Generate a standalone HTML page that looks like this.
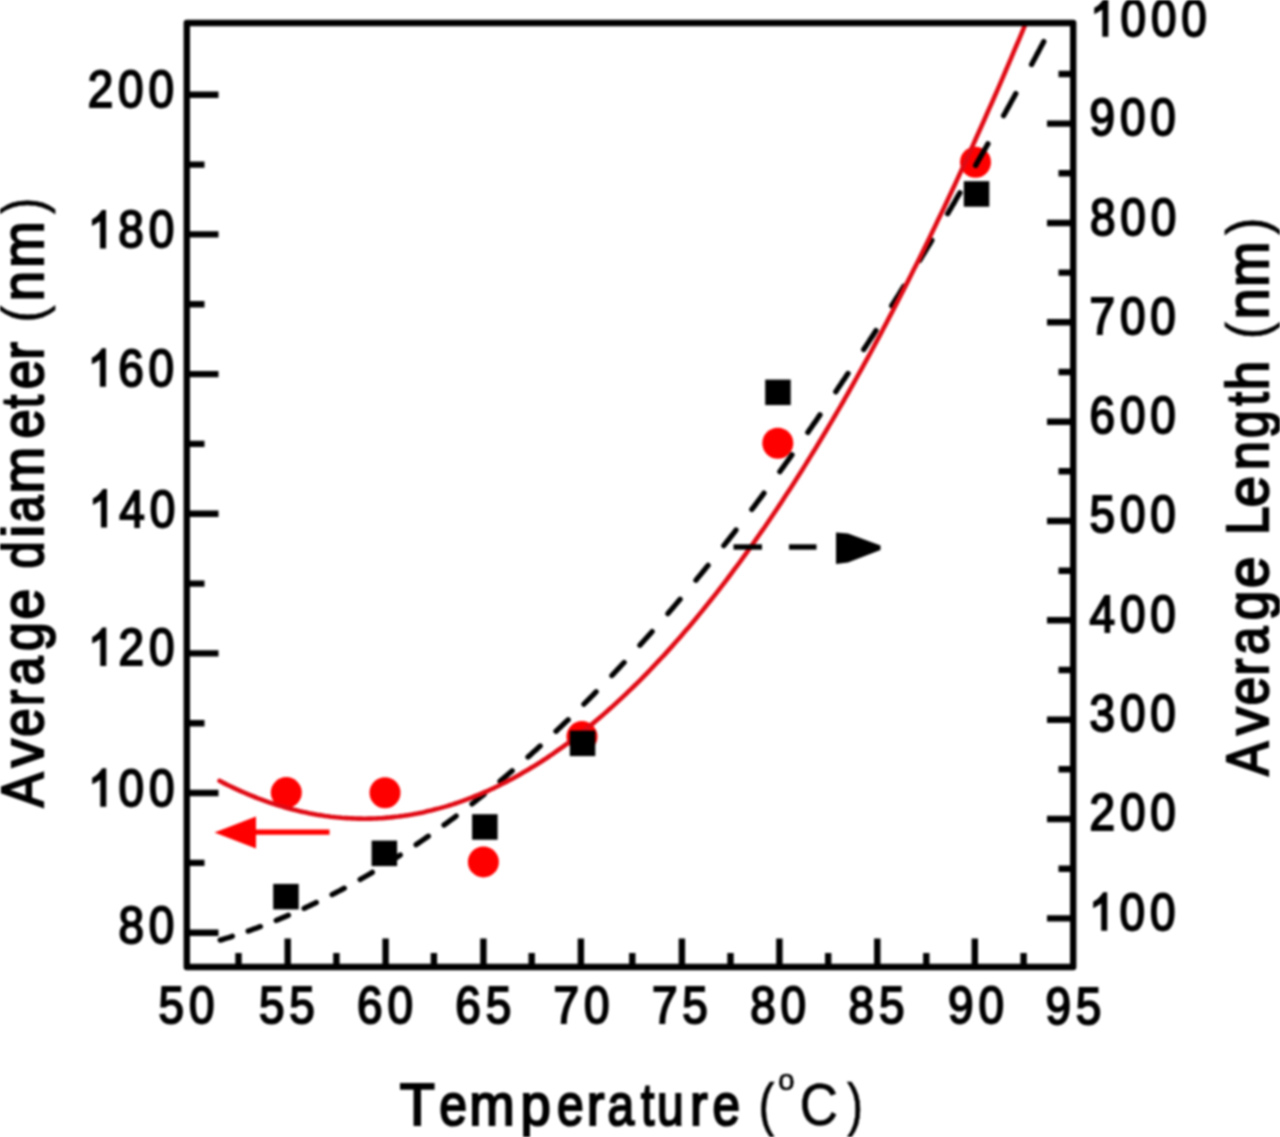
<!DOCTYPE html><html><head><meta charset="utf-8"><style>html,body{margin:0;padding:0;background:#fff;overflow:hidden}svg{display:block;filter:blur(0.8px);}text{font-family:"Liberation Sans",sans-serif;fill:#000;stroke:#000;stroke-width:2.0px;}</style></head><body>
<svg width="1280" height="1137" viewBox="0 0 1280 1137">
<rect width="1280" height="1137" fill="#fff"/>
<defs><clipPath id="c"><rect x="186.8" y="23.0" width="886.4000000000001" height="944.0"/></clipPath></defs>
<circle cx="286.3" cy="792.6" r="15.5" fill="#f00"/>
<circle cx="385" cy="792.8" r="15.5" fill="#f00"/>
<circle cx="483.4" cy="861.9" r="15.5" fill="#f00"/>
<circle cx="582" cy="736.6" r="15.5" fill="#f00"/>
<circle cx="777.8" cy="443.2" r="15.5" fill="#f00"/>
<circle cx="975.5" cy="162.3" r="15.5" fill="#f00"/>
<path d="M220.2,940.1 L221.9,939.6 L223.7,939.1 L225.4,938.5 L227.2,938.0 L228.9,937.5 L230.7,936.9 L232.4,936.3 M248.2,931.0 L249.9,930.4 L251.7,929.8 L253.4,929.1 L255.2,928.5 L256.9,927.9 L258.6,927.2 L260.4,926.6 M276.2,920.4 L277.9,919.7 L279.6,919.0 L281.4,918.2 L283.1,917.5 L284.9,916.8 L286.6,916.0 L288.4,915.3 M304.1,908.3 L305.9,907.5 L307.6,906.6 L309.4,905.8 L311.1,905.0 L312.9,904.2 L314.6,903.3 L316.3,902.5 M332.1,894.6 L333.9,893.7 L335.6,892.8 L337.3,891.9 L339.1,891.0 L340.8,890.1 L342.6,889.1 L344.3,888.2 M360.1,879.5 L361.8,878.5 L363.6,877.5 L365.3,876.5 L367.1,875.5 L368.8,874.5 L370.6,873.4 L372.3,872.4 M388.1,862.8 L389.8,861.8 L391.6,860.7 L393.3,859.6 L395.1,858.5 L396.8,857.3 L398.5,856.2 L400.3,855.1 M416.1,844.7 L417.8,843.5 L419.5,842.3 L421.3,841.1 L423.0,839.9 L424.8,838.7 L426.5,837.5 L428.3,836.3 M444.0,825.0 L445.8,823.8 L447.5,822.5 L449.3,821.2 L451.0,819.9 L452.8,818.6 L454.5,817.3 L456.2,816.0 M472.0,803.9 L473.8,802.5 L475.5,801.1 L477.2,799.7 L479.0,798.4 L480.7,797.0 L482.5,795.6 L484.2,794.2 M500.0,781.2 L501.7,779.7 L503.5,778.3 L505.2,776.8 L507.0,775.3 L508.7,773.8 L510.5,772.3 L512.2,770.8 M528.0,757.0 L529.7,755.5 L531.5,753.9 L533.2,752.3 L535.0,750.8 L536.7,749.2 L538.4,747.6 L540.2,746.0 M556.0,731.3 L557.7,729.7 L559.4,728.0 L561.2,726.4 L562.9,724.7 L564.7,723.0 L566.4,721.4 L568.2,719.7 M583.9,704.1 L585.7,702.4 L587.4,700.7 L589.2,698.9 L590.9,697.1 L592.7,695.4 L594.4,693.6 L596.1,691.8 M611.9,675.5 L613.7,673.6 L615.4,671.8 L617.1,669.9 L618.9,668.1 L620.6,666.2 L622.4,664.3 L624.1,662.5 M639.9,645.3 L641.6,643.3 L643.4,641.4 L645.1,639.4 L646.9,637.5 L648.6,635.5 L650.4,633.6 L652.1,631.6 M667.9,613.6 L669.6,611.5 L671.4,609.5 L673.1,607.5 L674.9,605.4 L676.6,603.4 L678.3,601.3 L680.1,599.3 M695.9,580.3 L697.6,578.2 L699.3,576.1 L701.1,574.0 L702.8,571.8 L704.6,569.7 L706.3,567.5 L708.1,565.4 M723.8,545.6 L725.6,543.4 L727.3,541.2 L729.1,539.0 L730.8,536.7 L732.6,534.5 L734.3,532.3 L736.0,530.0 M751.8,509.4 L753.6,507.1 L755.3,504.8 L757.0,502.5 L758.8,500.1 L760.5,497.8 L762.3,495.5 L764.0,493.1 M779.8,471.7 L781.5,469.3 L783.3,466.9 L785.0,464.5 L786.8,462.0 L788.5,459.6 L790.3,457.2 L792.0,454.8 M807.8,432.4 L809.5,429.9 L811.3,427.5 L813.0,424.9 L814.8,422.4 L816.5,419.9 L818.2,417.4 L820.0,414.9 M835.8,391.7 L837.5,389.1 L839.2,386.5 L841.0,383.9 L842.7,381.3 L844.5,378.7 L846.2,376.1 L848.0,373.5 M863.7,349.5 L865.5,346.8 L867.2,344.1 L869.0,341.4 L870.7,338.7 L872.5,336.0 L874.2,333.3 L875.9,330.6 M891.7,305.7 L893.5,302.9 L895.2,300.2 L896.9,297.4 L898.7,294.6 L900.4,291.8 L902.2,289.0 L903.9,286.2 M919.7,260.5 L921.4,257.6 L923.2,254.7 L924.9,251.8 L926.7,248.9 L928.4,246.0 L930.2,243.2 L931.9,240.2 M947.7,213.7 L949.4,210.7 L951.2,207.8 L952.9,204.8 L954.7,201.8 L956.4,198.8 L958.1,195.8 L959.9,192.8 M975.7,165.4 L977.4,162.4 L979.1,159.3 L980.9,156.2 L982.6,153.2 L984.4,150.1 L986.1,147.0 L987.9,143.9 M1003.6,115.6 L1005.4,112.5 L1007.1,109.3 L1008.9,106.2 L1010.6,103.0 L1012.4,99.8 L1014.1,96.7 L1015.8,93.5 M1031.6,64.4 L1033.4,61.1 L1035.1,57.9 L1036.8,54.6 L1038.6,51.4 L1040.3,48.1 L1042.1,44.8 L1043.8,41.5" stroke="#000" stroke-width="5.3" fill="none" stroke-linecap="round" stroke-linejoin="round" clip-path="url(#c)"/>
<path d="M219.5,780.8 L222.2,782.2 L224.9,783.6 L227.6,785.0 L230.3,786.3 L233.1,787.6 L235.8,788.9 L238.5,790.1 L241.2,791.3 L243.9,792.5 L246.6,793.7 L249.3,794.8 L252.0,795.9 L254.7,797.0 L257.4,798.1 L260.2,799.1 L262.9,800.1 L265.6,801.1 L268.3,802.1 L271.0,803.0 L273.7,803.9 L276.4,804.8 L279.1,805.6 L281.8,806.4 L284.6,807.2 L287.3,808.0 L290.0,808.7 L292.7,809.5 L295.4,810.1 L298.1,810.8 L300.8,811.4 L303.5,812.1 L306.2,812.6 L309.0,813.2 L311.7,813.7 L314.4,814.2 L317.1,814.7 L319.8,815.1 L322.5,815.6 L325.2,816.0 L327.9,816.3 L330.6,816.7 L333.3,817.0 L336.1,817.3 L338.8,817.5 L341.5,817.8 L344.2,818.0 L346.9,818.1 L349.6,818.3 L352.3,818.4 L355.0,818.5 L357.7,818.6 L360.5,818.6 L363.2,818.7 L365.9,818.7 L368.6,818.6 L371.3,818.6 L374.0,818.5 L376.7,818.4 L379.4,818.2 L382.1,818.1 L384.9,817.9 L387.6,817.6 L390.3,817.4 L393.0,817.1 L395.7,816.8 L398.4,816.5 L401.1,816.1 L403.8,815.8 L406.5,815.4 L409.2,814.9 L412.0,814.5 L414.7,814.0 L417.4,813.5 L420.1,812.9 L422.8,812.4 L425.5,811.8 L428.2,811.1 L430.9,810.5 L433.6,809.8 L436.4,809.1 L439.1,808.4 L441.8,807.6 L444.5,806.9 L447.2,806.1 L449.9,805.2 L452.6,804.4 L455.3,803.5 L458.0,802.6 L460.8,801.6 L463.5,800.7 L466.2,799.7 L468.9,798.6 L471.6,797.6 L474.3,796.5 L477.0,795.4 L479.7,794.3 L482.4,793.1 L485.1,792.0 L487.9,790.8 L490.6,789.5 L493.3,788.3 L496.0,787.0 L498.7,785.7 L501.4,784.3 L504.1,783.0 L506.8,781.6 L509.5,780.1 L512.3,778.7 L515.0,777.2 L517.7,775.7 L520.4,774.2 L523.1,772.6 L525.8,771.1 L528.5,769.5 L531.2,767.8 L533.9,766.2 L536.7,764.5 L539.4,762.8 L542.1,761.0 L544.8,759.3 L547.5,757.5 L550.2,755.6 L552.9,753.8 L555.6,751.9 L558.3,750.0 L561.0,748.1 L563.8,746.1 L566.5,744.2 L569.2,742.1 L571.9,740.1 L574.6,738.0 L577.3,736.0 L580.0,733.8 L582.7,731.7 L585.4,729.5 L588.2,727.3 L590.9,725.1 L593.6,722.9 L596.3,720.6 L599.0,718.3 L601.7,716.0 L604.4,713.6 L607.1,711.2 L609.8,708.8 L612.6,706.4 L615.3,703.9 L618.0,701.4 L620.7,698.9 L623.4,696.4 L626.1,693.8 L628.8,691.2 L631.5,688.6 L634.2,686.0 L636.9,683.3 L639.7,680.6 L642.4,677.9 L645.1,675.1 L647.8,672.3 L650.5,669.5 L653.2,666.7 L655.9,663.8 L658.6,660.9 L661.3,658.0 L664.1,655.1 L666.8,652.1 L669.5,649.1 L672.2,646.1 L674.9,643.0 L677.6,640.0 L680.3,636.9 L683.0,633.7 L685.7,630.6 L688.5,627.4 L691.2,624.2 L693.9,621.0 L696.6,617.7 L699.3,614.4 L702.0,611.1 L704.7,607.8 L707.4,604.4 L710.1,601.0 L712.8,597.6 L715.6,594.1 L718.3,590.6 L721.0,587.1 L723.7,583.6 L726.4,580.1 L729.1,576.5 L731.8,572.9 L734.5,569.2 L737.2,565.6 L740.0,561.9 L742.7,558.2 L745.4,554.4 L748.1,550.7 L750.8,546.9 L753.5,543.0 L756.2,539.2 L758.9,535.3 L761.6,531.4 L764.4,527.5 L767.1,523.5 L769.8,519.5 L772.5,515.5 L775.2,511.5 L777.9,507.4 L780.6,503.4 L783.3,499.2 L786.0,495.1 L788.7,490.9 L791.5,486.7 L794.2,482.5 L796.9,478.3 L799.6,474.0 L802.3,469.7 L805.0,465.4 L807.7,461.0 L810.4,456.6 L813.1,452.2 L815.9,447.8 L818.6,443.3 L821.3,438.8 L824.0,434.3 L826.7,429.8 L829.4,425.2 L832.1,420.6 L834.8,416.0 L837.5,411.3 L840.3,406.7 L843.0,402.0 L845.7,397.2 L848.4,392.5 L851.1,387.7 L853.8,382.9 L856.5,378.0 L859.2,373.2 L861.9,368.3 L864.6,363.4 L867.4,358.4 L870.1,353.5 L872.8,348.5 L875.5,343.4 L878.2,338.4 L880.9,333.3 L883.6,328.2 L886.3,323.1 L889.0,317.9 L891.8,312.7 L894.5,307.5 L897.2,302.3 L899.9,297.0 L902.6,291.7 L905.3,286.4 L908.0,281.1 L910.7,275.7 L913.4,270.3 L916.2,264.9 L918.9,259.5 L921.6,254.0 L924.3,248.5 L927.0,242.9 L929.7,237.4 L932.4,231.8 L935.1,226.2 L937.8,220.6 L940.5,214.9 L943.3,209.2 L946.0,203.5 L948.7,197.7 L951.4,192.0 L954.1,186.2 L956.8,180.4 L959.5,174.5 L962.2,168.6 L964.9,162.7 L967.7,156.8 L970.4,150.8 L973.1,144.9 L975.8,138.8 L978.5,132.8 L981.2,126.7 L983.9,120.7 L986.6,114.5 L989.3,108.4 L992.1,102.2 L994.8,96.0 L997.5,89.8 L1000.2,83.6 L1002.9,77.3 L1005.6,71.0 L1008.3,64.6 L1011.0,58.3 L1013.7,51.9 L1016.4,45.5 L1019.2,39.1 L1021.9,32.6 L1024.6,26.1 L1027.3,19.6 L1030.0,13.0" stroke="#e00a14" stroke-width="4.6" fill="none" stroke-linecap="round" clip-path="url(#c)"/>
<rect x="273.2" y="883.9" width="25.5" height="25.5" fill="#000"/>
<rect x="371.6" y="840.6" width="25.5" height="25.5" fill="#000"/>
<rect x="472.1" y="814.2" width="25.5" height="25.5" fill="#000"/>
<rect x="569.8" y="730.6" width="25.5" height="25.5" fill="#000"/>
<rect x="765.2" y="379.6" width="25.5" height="25.5" fill="#000"/>
<rect x="963.8" y="181.2" width="25.5" height="25.5" fill="#000"/>
<line x1="250" y1="832.2" x2="329.5" y2="832.2" stroke="#f00" stroke-width="5.2"/>
<polygon points="214.5,832.5 256,816.5 256,848.5" fill="#f00"/>
<line x1="733.5" y1="547" x2="762" y2="547" stroke="#000" stroke-width="5.4"/>
<line x1="789" y1="547" x2="816.5" y2="547" stroke="#000" stroke-width="5.4"/>
<polygon points="836,532.5 848,533.5 880.5,545.5 880.5,550 848,562.5 836,564" fill="#000"/>
<rect x="186.8" y="23.0" width="886.4000000000001" height="944.0" fill="none" stroke="#000" stroke-width="6.4" stroke-linejoin="round"/>
<path d="M186.8,932.7 H218.5 M186.8,793.0 H218.5 M186.8,653.4 H218.5 M186.8,513.8 H218.5 M186.8,374.1 H218.5 M186.8,234.4 H218.5 M186.8,94.8 H218.5 M186.8,862.9 H204.5 M186.8,723.2 H204.5 M186.8,583.6 H204.5 M186.8,443.9 H204.5 M186.8,304.3 H204.5 M186.8,164.6 H204.5 M1073.2,918.4 H1047 M1073.2,819.0 H1047 M1073.2,719.7 H1047 M1073.2,620.3 H1047 M1073.2,521.0 H1047 M1073.2,421.7 H1047 M1073.2,322.3 H1047 M1073.2,223.0 H1047 M1073.2,123.6 H1047 M1073.2,868.7 H1058.5 M1073.2,769.3 H1058.5 M1073.2,670.0 H1058.5 M1073.2,570.7 H1058.5 M1073.2,471.3 H1058.5 M1073.2,372.0 H1058.5 M1073.2,272.6 H1058.5 M1073.2,173.3 H1058.5 M1073.2,74.0 H1058.5 M238.5,967.0 V953 M287.7,967.0 V938.5 M336.4,967.0 V953 M385.6,967.0 V938.5 M433.9,967.0 V953 M483.4,967.0 V938.5 M531.7,967.0 V953 M580.9,967.0 V938.5 M632.3,967.0 V953 M681.9,967.0 V938.5 M730.5,967.0 V953 M779.4,967.0 V938.5 M828.2,967.0 V953 M877.3,967.0 V938.5 M926.3,967.0 V953 M974.8,967.0 V938.5 M1023.6,967.0 V953" stroke="#000" stroke-width="6.4" fill="none"/>
<text transform="translate(118.40,943.15) scale(0.9,1)" font-size="51">8</text>
<text transform="translate(148.76,943.15) scale(0.9,1)" font-size="51">0</text>
<path transform="translate(88.20,805.80) scale(0.02241,-0.02490)" d="M763,0 L583,0 L583,1147 L500,1075 L412,1023 L306,966 L223,929 L223,1103 L340,1165 L459,1256 L560,1360 L647,1466 L763,1466 Z" fill="#000" stroke="#000" stroke-width="2.0" vector-effect="non-scaling-stroke"/>
<text transform="translate(118.56,805.80) scale(0.9,1)" font-size="51">0</text>
<text transform="translate(148.93,805.80) scale(0.9,1)" font-size="51">0</text>
<path transform="translate(88.20,665.10) scale(0.02241,-0.02490)" d="M763,0 L583,0 L583,1147 L500,1075 L412,1023 L306,966 L223,929 L223,1103 L340,1165 L459,1256 L560,1360 L647,1466 L763,1466 Z" fill="#000" stroke="#000" stroke-width="2.0" vector-effect="non-scaling-stroke"/>
<text transform="translate(118.56,665.10) scale(0.9,1)" font-size="51">2</text>
<text transform="translate(148.93,665.10) scale(0.9,1)" font-size="51">0</text>
<path transform="translate(88.90,526.50) scale(0.02241,-0.02490)" d="M763,0 L583,0 L583,1147 L500,1075 L412,1023 L306,966 L223,929 L223,1103 L340,1165 L459,1256 L560,1360 L647,1466 L763,1466 Z" fill="#000" stroke="#000" stroke-width="2.0" vector-effect="non-scaling-stroke"/>
<text transform="translate(119.26,526.50) scale(0.9,1)" font-size="51">4</text>
<text transform="translate(149.63,526.50) scale(0.9,1)" font-size="51">0</text>
<path transform="translate(87.85,385.85) scale(0.02241,-0.02490)" d="M763,0 L583,0 L583,1147 L500,1075 L412,1023 L306,966 L223,929 L223,1103 L340,1165 L459,1256 L560,1360 L647,1466 L763,1466 Z" fill="#000" stroke="#000" stroke-width="2.0" vector-effect="non-scaling-stroke"/>
<text transform="translate(118.21,385.85) scale(0.9,1)" font-size="51">6</text>
<text transform="translate(148.58,385.85) scale(0.9,1)" font-size="51">0</text>
<path transform="translate(87.95,247.45) scale(0.02241,-0.02490)" d="M763,0 L583,0 L583,1147 L500,1075 L412,1023 L306,966 L223,929 L223,1103 L340,1165 L459,1256 L560,1360 L647,1466 L763,1466 Z" fill="#000" stroke="#000" stroke-width="2.0" vector-effect="non-scaling-stroke"/>
<text transform="translate(118.31,247.45) scale(0.9,1)" font-size="51">8</text>
<text transform="translate(148.68,247.45) scale(0.9,1)" font-size="51">0</text>
<text transform="translate(87.70,107.15) scale(0.9,1)" font-size="51">2</text>
<text transform="translate(118.06,107.15) scale(0.9,1)" font-size="51">0</text>
<text transform="translate(148.43,107.15) scale(0.9,1)" font-size="51">0</text>
<path transform="translate(1089.15,929.71) scale(0.02241,-0.02490)" d="M763,0 L583,0 L583,1147 L500,1075 L412,1023 L306,966 L223,929 L223,1103 L340,1165 L459,1256 L560,1360 L647,1466 L763,1466 Z" fill="#000" stroke="#000" stroke-width="2.0" vector-effect="non-scaling-stroke"/>
<text transform="translate(1119.51,929.71) scale(0.9,1)" font-size="51">0</text>
<text transform="translate(1149.88,929.71) scale(0.9,1)" font-size="51">0</text>
<text transform="translate(1089.57,830.47) scale(0.9,1)" font-size="51">2</text>
<text transform="translate(1119.93,830.47) scale(0.9,1)" font-size="51">0</text>
<text transform="translate(1150.29,830.47) scale(0.9,1)" font-size="51">0</text>
<text transform="translate(1089.57,731.13) scale(0.9,1)" font-size="51">3</text>
<text transform="translate(1119.93,731.13) scale(0.9,1)" font-size="51">0</text>
<text transform="translate(1150.29,731.13) scale(0.9,1)" font-size="51">0</text>
<text transform="translate(1089.57,631.79) scale(0.9,1)" font-size="51">4</text>
<text transform="translate(1119.93,631.79) scale(0.9,1)" font-size="51">0</text>
<text transform="translate(1150.29,631.79) scale(0.9,1)" font-size="51">0</text>
<text transform="translate(1089.57,532.45) scale(0.9,1)" font-size="51">5</text>
<text transform="translate(1119.93,532.45) scale(0.9,1)" font-size="51">0</text>
<text transform="translate(1150.29,532.45) scale(0.9,1)" font-size="51">0</text>
<text transform="translate(1089.57,433.11) scale(0.9,1)" font-size="51">6</text>
<text transform="translate(1119.93,433.11) scale(0.9,1)" font-size="51">0</text>
<text transform="translate(1150.29,433.11) scale(0.9,1)" font-size="51">0</text>
<text transform="translate(1089.57,333.77) scale(0.9,1)" font-size="51">7</text>
<text transform="translate(1119.93,333.77) scale(0.9,1)" font-size="51">0</text>
<text transform="translate(1150.29,333.77) scale(0.9,1)" font-size="51">0</text>
<text transform="translate(1090.00,234.78) scale(0.9,1)" font-size="51">8</text>
<text transform="translate(1120.36,234.78) scale(0.9,1)" font-size="51">0</text>
<text transform="translate(1150.73,234.78) scale(0.9,1)" font-size="51">0</text>
<text transform="translate(1089.55,134.84) scale(0.9,1)" font-size="51">9</text>
<text transform="translate(1119.91,134.84) scale(0.9,1)" font-size="51">0</text>
<text transform="translate(1150.28,134.84) scale(0.9,1)" font-size="51">0</text>
<path transform="translate(1090.25,35.75) scale(0.02241,-0.02490)" d="M763,0 L583,0 L583,1147 L500,1075 L412,1023 L306,966 L223,929 L223,1103 L340,1165 L459,1256 L560,1360 L647,1466 L763,1466 Z" fill="#000" stroke="#000" stroke-width="2.0" vector-effect="non-scaling-stroke"/>
<text transform="translate(1120.61,35.75) scale(0.9,1)" font-size="51">0</text>
<text transform="translate(1150.98,35.75) scale(0.9,1)" font-size="51">0</text>
<text transform="translate(1181.34,35.75) scale(0.9,1)" font-size="51">0</text>
<text transform="translate(158.55,1022.90) scale(0.9,1)" font-size="51">5</text>
<text transform="translate(188.91,1022.90) scale(0.9,1)" font-size="51">0</text>
<text transform="translate(259.00,1022.90) scale(0.9,1)" font-size="51">5</text>
<text transform="translate(289.36,1022.90) scale(0.9,1)" font-size="51">5</text>
<text transform="translate(357.03,1023.17) scale(0.9,1)" font-size="51">6</text>
<text transform="translate(387.39,1023.17) scale(0.9,1)" font-size="51">0</text>
<text transform="translate(455.33,1023.17) scale(0.9,1)" font-size="51">6</text>
<text transform="translate(485.69,1023.17) scale(0.9,1)" font-size="51">5</text>
<text transform="translate(553.62,1023.17) scale(0.9,1)" font-size="51">7</text>
<text transform="translate(583.99,1023.17) scale(0.9,1)" font-size="51">0</text>
<text transform="translate(651.92,1023.17) scale(0.9,1)" font-size="51">7</text>
<text transform="translate(682.29,1023.17) scale(0.9,1)" font-size="51">5</text>
<text transform="translate(750.22,1023.17) scale(0.9,1)" font-size="51">8</text>
<text transform="translate(780.59,1023.17) scale(0.9,1)" font-size="51">0</text>
<text transform="translate(848.53,1023.17) scale(0.9,1)" font-size="51">8</text>
<text transform="translate(878.89,1023.17) scale(0.9,1)" font-size="51">5</text>
<text transform="translate(948.05,1023.40) scale(0.9,1)" font-size="51">9</text>
<text transform="translate(978.41,1023.40) scale(0.9,1)" font-size="51">0</text>
<text transform="translate(1045.50,1023.50) scale(0.9,1)" font-size="51">9</text>
<text transform="translate(1075.86,1023.50) scale(0.9,1)" font-size="51">5</text>
<text transform="translate(417.20,1125.00) scale(0.958,1)" x="-18.31" font-size="60" style="stroke-width:2.2px">T</text>
<text transform="translate(453.15,1125.00) scale(0.833,1)" x="-16.63" font-size="60" style="stroke-width:2.2px">e</text>
<text transform="translate(491.90,1125.00) scale(0.909,1)" x="-25.00" font-size="60" style="stroke-width:2.2px">m</text>
<text transform="translate(536.25,1125.00) scale(0.908,1)" x="-17.36" font-size="60" style="stroke-width:2.2px">p</text>
<text transform="translate(570.30,1125.00) scale(0.800,1)" x="-16.63" font-size="60" style="stroke-width:2.2px">e</text>
<text transform="translate(596.88,1125.00) scale(0.887,1)" x="-11.48" font-size="60" style="stroke-width:2.2px">r</text>
<text transform="translate(621.90,1125.00) scale(0.800,1)" x="-17.96" font-size="60" style="stroke-width:2.2px">a</text>
<text transform="translate(647.80,1125.00) scale(0.800,1)" x="-8.57" font-size="60" style="stroke-width:2.2px">t</text>
<text transform="translate(670.33,1125.00) scale(0.800,1)" x="-16.64" font-size="60" style="stroke-width:2.2px">u</text>
<text transform="translate(700.10,1125.00) scale(0.884,1)" x="-11.48" font-size="60" style="stroke-width:2.2px">r</text>
<text transform="translate(726.10,1125.00) scale(0.824,1)" x="-16.63" font-size="60" style="stroke-width:2.2px">e</text>
<text transform="translate(767.95,1125.00) scale(0.800,1)" x="-11.67" font-size="60" style="stroke-width:0.7px">(</text>
<text transform="translate(786.25,1090.00) scale(0.991,1)" x="-8.20" font-size="29.5" style="stroke-width:0.7px">o</text>
<text transform="translate(819.30,1125.00) scale(0.884,1)" x="-22.05" font-size="60" style="stroke-width:0.7px">C</text>
<text transform="translate(853.75,1125.00) scale(0.800,1)" x="-8.31" font-size="60" style="stroke-width:0.7px">)</text>
<text transform="translate(42.50,789.95) rotate(-90) scale(0.865,1)" x="-20.01" font-size="60" style="stroke-width:2.2px">A</text>
<text transform="translate(42.50,753.00) rotate(-90) scale(0.944,1)" x="-15.00" font-size="60" style="stroke-width:2.2px">v</text>
<text transform="translate(42.50,722.65) rotate(-90) scale(0.847,1)" x="-16.63" font-size="60" style="stroke-width:2.2px">e</text>
<text transform="translate(42.50,696.65) rotate(-90) scale(0.800,1)" x="-11.48" font-size="60" style="stroke-width:2.2px">r</text>
<text transform="translate(42.50,669.90) rotate(-90) scale(0.860,1)" x="-17.96" font-size="60" style="stroke-width:2.2px">a</text>
<text transform="translate(42.50,637.25) rotate(-90) scale(0.860,1)" x="-16.01" font-size="60" style="stroke-width:2.2px">g</text>
<text transform="translate(42.50,604.15) rotate(-90) scale(0.919,1)" x="-16.63" font-size="60" style="stroke-width:2.2px">e</text>
<text transform="translate(42.50,555.55) rotate(-90) scale(0.812,1)" x="-16.01" font-size="60" style="stroke-width:2.2px">d</text>
<text transform="translate(42.50,531.25) rotate(-90) scale(1.004,1)" x="-6.65" font-size="60" style="stroke-width:2.2px">i</text>
<text transform="translate(42.50,507.80) rotate(-90) scale(0.800,1)" x="-17.96" font-size="60" style="stroke-width:2.2px">a</text>
<text transform="translate(42.50,470.15) rotate(-90) scale(0.934,1)" x="-25.00" font-size="60" style="stroke-width:2.2px">m</text>
<text transform="translate(42.50,424.00) rotate(-90) scale(0.870,1)" x="-16.63" font-size="60" style="stroke-width:2.2px">e</text>
<text transform="translate(42.50,401.50) rotate(-90) scale(0.800,1)" x="-8.57" font-size="60" style="stroke-width:2.2px">t</text>
<text transform="translate(42.50,374.85) rotate(-90) scale(0.873,1)" x="-16.63" font-size="60" style="stroke-width:2.2px">e</text>
<text transform="translate(42.50,349.50) rotate(-90) scale(0.884,1)" x="-11.48" font-size="60" style="stroke-width:2.2px">r</text>
<text transform="translate(42.50,312.55) rotate(-90) scale(0.873,1)" x="-11.67" font-size="60" style="stroke-width:0.7px">(</text>
<text transform="translate(42.50,286.15) rotate(-90) scale(0.907,1)" x="-16.73" font-size="60" style="stroke-width:2.2px">n</text>
<text transform="translate(42.50,244.65) rotate(-90) scale(0.929,1)" x="-25.00" font-size="60" style="stroke-width:2.2px">m</text>
<text transform="translate(42.50,207.10) rotate(-90) scale(0.819,1)" x="-8.31" font-size="60" style="stroke-width:0.7px">)</text>
<text transform="translate(1268.30,758.90) rotate(-90) scale(0.848,1)" x="-20.01" font-size="60" style="stroke-width:2.2px">A</text>
<text transform="translate(1268.30,721.15) rotate(-90) scale(0.922,1)" x="-15.00" font-size="60" style="stroke-width:2.2px">v</text>
<text transform="translate(1268.30,691.25) rotate(-90) scale(0.847,1)" x="-16.63" font-size="60" style="stroke-width:2.2px">e</text>
<text transform="translate(1268.30,665.95) rotate(-90) scale(0.843,1)" x="-11.48" font-size="60" style="stroke-width:2.2px">r</text>
<text transform="translate(1268.30,639.60) rotate(-90) scale(0.842,1)" x="-17.96" font-size="60" style="stroke-width:2.2px">a</text>
<text transform="translate(1268.30,606.20) rotate(-90) scale(0.884,1)" x="-16.01" font-size="60" style="stroke-width:2.2px">g</text>
<text transform="translate(1268.30,572.40) rotate(-90) scale(0.942,1)" x="-16.63" font-size="60" style="stroke-width:2.2px">e</text>
<text transform="translate(1268.30,519.60) rotate(-90) scale(0.852,1)" x="-18.15" font-size="60" style="stroke-width:2.2px">L</text>
<text transform="translate(1268.30,491.55) rotate(-90) scale(0.939,1)" x="-16.63" font-size="60" style="stroke-width:2.2px">e</text>
<text transform="translate(1268.30,455.65) rotate(-90) scale(0.878,1)" x="-16.73" font-size="60" style="stroke-width:2.2px">n</text>
<text transform="translate(1268.30,424.65) rotate(-90) scale(0.833,1)" x="-16.01" font-size="60" style="stroke-width:2.2px">g</text>
<text transform="translate(1268.30,398.60) rotate(-90) scale(0.800,1)" x="-8.57" font-size="60" style="stroke-width:2.2px">t</text>
<text transform="translate(1268.30,375.35) rotate(-90) scale(0.883,1)" x="-16.82" font-size="60" style="stroke-width:2.2px">h</text>
<text transform="translate(1268.30,329.05) rotate(-90) scale(0.873,1)" x="-11.67" font-size="60" style="stroke-width:0.7px">(</text>
<text transform="translate(1268.30,303.65) rotate(-90) scale(0.928,1)" x="-16.73" font-size="60" style="stroke-width:2.2px">n</text>
<text transform="translate(1268.30,264.20) rotate(-90) scale(0.900,1)" x="-25.00" font-size="60" style="stroke-width:2.2px">m</text>
<text transform="translate(1268.30,227.65) rotate(-90) scale(0.873,1)" x="-8.31" font-size="60" style="stroke-width:0.7px">)</text>
</svg></body></html>
